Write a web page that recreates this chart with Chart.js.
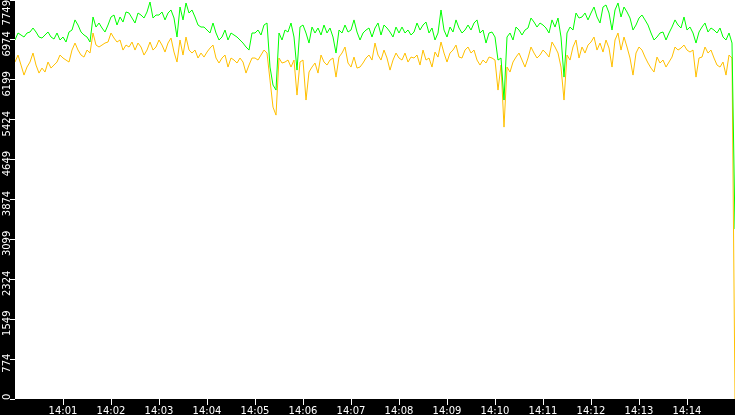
<!DOCTYPE html>
<html>
<head>
<meta charset="utf-8">
<script src="https://cdn.jsdelivr.net/npm/chart.js@4.4.1/dist/chart.umd.min.js"></script>
<style>
html,body{margin:0;padding:0;background:#000;}
#wrap{width:735px;height:415px;}
canvas{display:block;}
</style>
</head>
<body>
<div id="wrap"><canvas id="c" width="735" height="415"></canvas></div>
<script>
// ---- data ----
const startLabel = '14:00';
const sampleStepSeconds = 3.75;
const lastSampleSecond = 900;

const greenValues = [
6972,7108,7069,7030,7108,7127,7205,7127,7030,7010,
7069,7127,7030,6991,7108,6972,7030,6933,7127,7166,
7362,7263,7127,7069,7030,6933,7419,7224,7302,7205,
7127,7263,7419,7457,7263,7419,7321,7516,7496,7399,
7302,7496,7457,7399,7516,7710,7399,7457,7457,7516,
7362,7496,7555,7399,7030,7613,7362,7691,7496,7555,
7419,7263,7224,7224,7166,7108,7302,7108,6972,7030,
7166,6972,7108,7069,7030,6972,6913,6836,6777,7108,
7108,7166,7069,7263,7302,6447,6097,6000,7108,6972,
7166,7127,7302,7030,6388,7224,7263,7108,6913,7224,
7108,7205,7069,7263,7108,7205,7030,6719,7166,7108,
7263,7127,7166,7362,7127,6972,7108,7166,7205,7030,
7205,7302,7069,7263,7205,7127,7030,7224,7108,7224,
7108,7166,7069,7127,7302,7166,7263,7321,7108,7205,
6972,7108,7555,7166,7030,7224,7127,7362,7205,7108,
7166,7263,7166,7302,7362,7108,7166,6913,7108,7127,
7030,6583,6622,5806,7030,7108,6972,7224,7166,7069,
7166,7205,7399,7321,7224,7302,7263,7205,7108,7362,
7224,7399,7030,6252,7108,7224,7166,7496,7399,7419,
7496,7362,7496,7613,7419,7302,7613,7652,7496,7166,
7555,7691,7419,7613,7516,7399,7166,7263,7399,7457,
7362,7263,7108,6972,7030,7108,7127,6972,7108,7224,
7362,7263,7205,7419,7166,7224,7108,6913,7127,7224,
7302,7127,7205,7166,7108,7205,7030,6972,7108,6913,
3300
];

const orangeValues = [
6544,6680,6486,6291,6447,6544,6719,6486,6330,6427,
6350,6544,6427,6486,6544,6680,6622,6583,6544,6777,
6913,6777,6680,6641,6777,6719,7108,6874,6836,6874,
6913,6933,7108,7010,6933,6972,6777,6874,6836,6933,
6777,6913,6836,6680,6777,6933,6777,6836,6972,6874,
6738,6913,7010,6738,6544,6972,6680,7030,6777,6719,
6777,6622,6719,6641,6738,6816,6874,6622,6525,6622,
6680,6447,6622,6583,6525,6622,6544,6330,6486,6622,
6622,6583,6680,6777,6719,6194,5669,5514,6622,6525,
6544,6583,6447,6583,5903,6544,6583,5806,6350,6447,
6525,6330,6680,6544,6486,6583,6622,6252,6641,6719,
6836,6525,6447,6641,6427,6447,6525,6622,6680,6583,
6913,6680,6583,6777,6622,6388,6583,6719,6622,6583,
6719,6544,6641,6622,6680,6486,6777,6583,6622,6447,
6738,6641,6933,6719,6544,6719,6777,6874,6641,6622,
6777,6836,6719,6777,6583,6486,6583,6525,6641,6622,
6583,6000,6486,5281,6447,6350,6544,6641,6719,6583,
6447,6622,6836,6719,6622,6680,6777,6719,6641,6933,
6836,6719,6447,5806,6680,6583,6836,6972,6622,6836,
6719,6874,6933,7030,6777,6913,6738,6972,6816,6447,
6972,7108,6777,7030,6836,6622,6291,6719,6836,6777,
6641,6525,6427,6350,6641,6525,6583,6447,6544,6641,
6836,6777,6816,6874,6777,6738,6777,6252,6622,6641,
6836,6719,6777,6622,6486,6447,6544,6291,6680,6622,
0
];

const yTickValues = [0, 774.9, 1549.8, 2324.7, 3099.6, 3874.5, 4649.4, 5424.3, 6199.2, 6974.1, 7749];
const yTickLabels = ['0','774','1549','2324','3099','3874','4649','5424','6199','6974','7749'];
const xTickValues = [60,120,180,240,300,360,420,480,540,600,660,720,780,840];
const xTickLabels = ['14:01','14:02','14:03','14:04','14:05','14:06','14:07','14:08','14:09','14:10','14:11','14:12','14:13','14:14'];

// ---- build library data ----
function toPoints(values){
  return values.map((v,i)=>({x: i === values.length-1 ? lastSampleSecond : i*sampleStepSeconds, y: v}));
}

const FONT = {family: 'DejaVu Sans', size: 10};

const bgPlugin = {
  id: 'bg',
  beforeDraw(chart){
    const {ctx, chartArea:a} = chart;
    ctx.save();
    ctx.fillStyle = '#000';
    ctx.fillRect(0,0,chart.width,chart.height);
    ctx.fillStyle = '#fff';
    ctx.fillRect(a.left,a.top,a.right-a.left,a.bottom-a.top);
    ctx.restore();
  }
};

const yLabelPlugin = {
  id: 'ylabels',
  afterDraw(chart){
    const {ctx} = chart;
    const ys = chart.scales.y;
    ctx.save();
    ctx.fillStyle = '#fff';
    ctx.font = '10px "DejaVu Sans"';
    ctx.textAlign = 'center';
    ctx.textBaseline = 'alphabetic';
    ys.ticks.forEach((t,i)=>{
      const s = yTickLabels[i];
      const w = ctx.measureText(s).width;
      let cy = ys.getPixelForValue(t.value) + 4;
      cy = Math.max(cy, w/2);
      cy = Math.min(cy, ys.bottom - w/2 + 1);
      ctx.save();
      ctx.translate(9.5, cy);
      ctx.rotate(-Math.PI/2);
      ctx.fillText(s, 0, 0);
      ctx.restore();
    });
    ctx.restore();
  }
};

new Chart(document.getElementById('c'), {
  type: 'line',
  data: {
    datasets: [
      {label: 'green', data: toPoints(greenValues), borderColor: '#00ff00', borderWidth: 1, pointRadius: 0, tension: 0, fill: false},
      {label: 'orange', data: toPoints(orangeValues), borderColor: '#ffc000', borderWidth: 1, pointRadius: 0, tension: 0, fill: false}
    ]
  },
  options: {
    responsive: false,
    animation: false,
    devicePixelRatio: 1,
    layout: {padding: 0},
    plugins: {legend: {display: false}, tooltip: {enabled: false}},
    scales: {
      x: {
        type: 'linear',
        min: 0, max: lastSampleSecond,
        afterBuildTicks(s){ s.ticks = xTickValues.map(v=>({value: v})); },
        afterFit(s){ s.height = 16; },
        ticks: {
          color: '#fff', font: FONT, padding: 0, maxRotation: 0, autoSkip: false,
          callback(v){ const i = xTickValues.indexOf(v); return i >= 0 ? xTickLabels[i] : ''; }
        },
        grid: {drawOnChartArea: false, drawTicks: true, tickLength: 6, tickColor: '#fff', color: '#fff'},
        border: {display: false}
      },
      y: {
        min: 0, max: 7749,
        afterBuildTicks(s){ s.ticks = yTickValues.map(v=>({value: v})); },
        afterFit(s){ s.width = 15; },
        ticks: {display: false},
        grid: {drawOnChartArea: false, drawTicks: true, tickLength: 5, tickColor: '#fff', color: '#fff'},
        border: {display: false}
      }
    }
  },
  plugins: [bgPlugin, yLabelPlugin]
});
</script>
</body>
</html>
